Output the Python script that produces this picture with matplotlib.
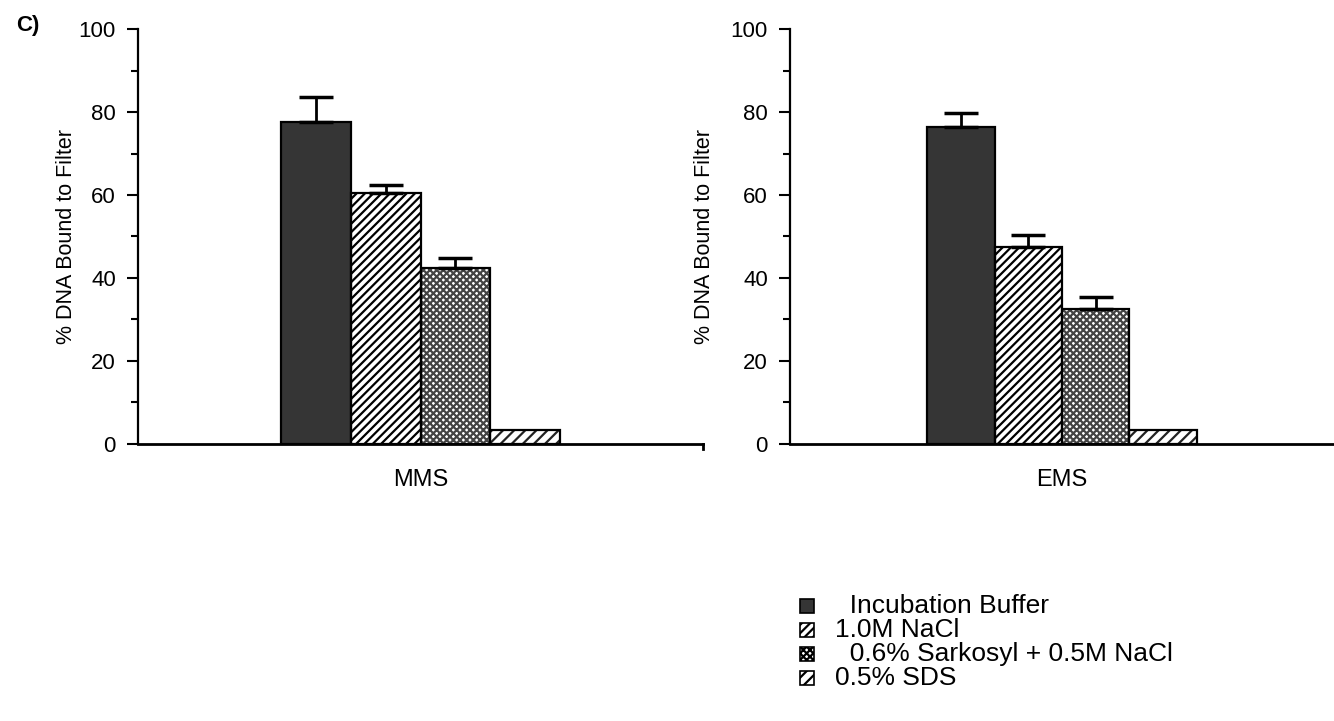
import matplotlib
matplotlib.use("Agg")
import matplotlib.pyplot as plt
from matplotlib.patches import Rectangle
from matplotlib.ticker import MultipleLocator

plt.rcParams['font.family'] = ['Liberation Sans', 'DejaVu Sans']
plt.rcParams['hatch.linewidth'] = 1.6

#------------------------------------------------------------------------------
# Data
#------------------------------------------------------------------------------

treatments = ["Incubation Buffer", "1.0M NaCl", "0.6% Sarkosyl + 0.5M NaCl", "0.5% SDS"]
legend_labels = ["  Incubation Buffer", "1.0M NaCl", "  0.6% Sarkosyl + 0.5M NaCl", "0.5% SDS"]

mms_vals = [77.5, 60.5, 42.5, 3.4]
mms_err = [6.0, 1.8, 2.4, 0.0]

ems_vals = [76.3, 47.5, 32.6, 3.4]
ems_err = [3.4, 2.8, 2.9, 0.0]

agents = ["MMS", "EMS"]

#------------------------------------------------------------------------------

fills = ["#353535", "white", "white", "white"]
hatch_cols = ["black", "black", "#444444", "#222222"]
hatches = [None, "////", "xxxxx", "///"]
offsets = [-1.5, -0.5, 0.5, 1.5]

fig = plt.figure(figsize=(13.34, 7.21), dpi=100)

W, H = 1334.0, 721.0
y0, y1 = 444.0, 29.0
ax1 = fig.add_axes([138 / W, 1 - y0 / H, (703 - 138) / W, (y0 - y1) / H])
ax2 = fig.add_axes([790 / W, 1 - y0 / H, (1334 - 790) / W, (y0 - y1) / H])

for ax, vals, errs, name, lpad in [(ax1, mms_vals, mms_err, agents[0], 1),
                                   (ax2, ems_vals, ems_err, agents[1], 11)]:
    for i in range(4):
        # hatch drawn in its own colour, then a black outline on top
        ax.bar(offsets[i], vals[i], width=1.0, color=fills[i], hatch=hatches[i],
               edgecolor=hatch_cols[i], linewidth=0, zorder=2)
        ax.bar(offsets[i], vals[i], width=1.0, fill=False,
               edgecolor="black", linewidth=1.6, zorder=2.5)
        if errs[i] > 0:
            ax.errorbar(offsets[i], vals[i], yerr=[[0], [errs[i]]], fmt="none",
                        ecolor="black", elinewidth=2, capsize=12, capthick=2.5, zorder=3)

    ax.set_xlim(-4.04, 4.04)
    ax.set_ylim(0, 100)
    ax.set_xticks([0])
    ax.set_xticklabels([name], fontsize=17)
    ax.tick_params(axis="x", length=0, pad=18)
    ax.yaxis.set_major_locator(MultipleLocator(20))
    ax.yaxis.set_minor_locator(MultipleLocator(10))
    ax.tick_params(axis="y", which="major", direction="out", length=8, width=1.5,
                   labelsize=16, pad=8)
    ax.tick_params(axis="y", which="minor", direction="out", length=5, width=1.5)
    ax.spines["top"].set_visible(False)
    ax.spines["right"].set_visible(False)
    ax.spines["left"].set_linewidth(1.6)
    ax.spines["bottom"].set_linewidth(2)
    ax.set_ylabel("% DNA Bound to Filter", fontsize=15.5, labelpad=lpad)

# small end tick on the left panel's x axis
ax1.plot([1, 1], [0, -0.012], transform=ax1.transAxes, color="black",
         linewidth=2, clip_on=False)

fig.text(16 / W, 1 - 26 / H, "C)", fontsize=16, fontweight="bold", va="center")

# legend drawn by hand: small hatched squares and wide text
rows = [606, 630, 654, 678]
for i in range(4):
    yc = rows[i]
    fig.add_artist(Rectangle((800 / W, 1 - (yc + 7) / H), 14 / W, 14 / H,
                             transform=fig.transFigure, facecolor=fills[i],
                             hatch=hatches[i], edgecolor="black", linewidth=1.2))
    fig.text(835 / W, 1 - yc / H, legend_labels[i], fontsize=19, va="center")

fig.savefig("out.png", dpi=100)
